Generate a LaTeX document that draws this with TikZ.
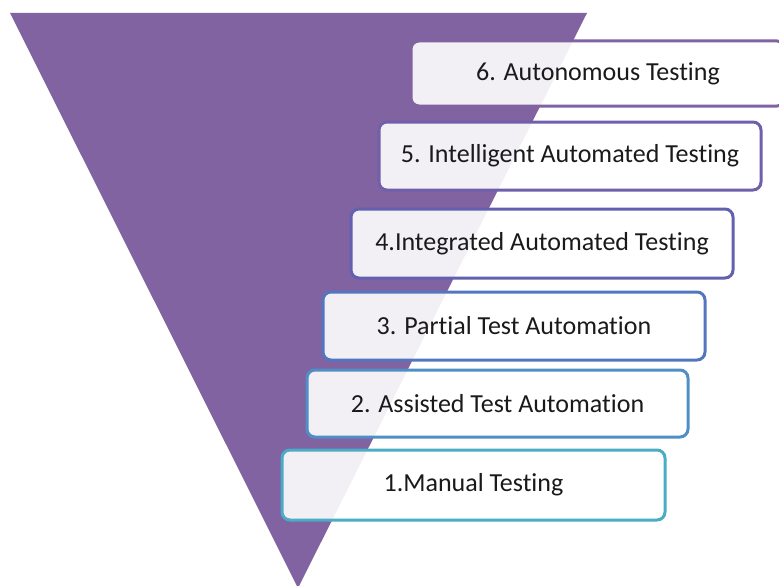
\documentclass[tikz,border=0pt]{standalone}
\usepackage{fontspec}
\setmainfont[Ligatures={NoCommon}]{Carlito}
\definecolor{tri}{RGB}{128,99,160}
\definecolor{b6}{RGB}{128,99,160}
\definecolor{b5}{RGB}{112,96,172}
\definecolor{b4}{RGB}{98,96,176}
\definecolor{b3}{RGB}{84,118,190}
\definecolor{b2}{RGB}{80,143,198}
\definecolor{b1}{RGB}{75,172,198}
\definecolor{txt}{RGB}{26,26,26}
\tikzset{
  lvl/.style={draw=#1, line width=3pt, rounded corners=8pt, fill=white, fill opacity=0.9, text opacity=1,
    text=txt, font=\fontsize{26}{30}\selectfont, inner sep=0pt}
}
\begin{document}
\begin{tikzpicture}[x=1pt,y=-1pt]
\useasboundingbox (0,0) rectangle (779,586);
\clip (0,0) rectangle (779,586);
\fill[tri] (10,13) -- (587,13) -- (298,588) -- cycle;
\node[lvl=b6, minimum width=374pt, minimum height=65pt] (n6) at (598,73.5) {6. Autonomous Testing};
\node[lvl=b5, minimum width=382pt, minimum height=68pt] (n5) at (570,156) {5. Intelligent Automated Testing};
\node[lvl=b4, minimum width=382pt, minimum height=69pt] (n4) at (542,243.5) {4.Integrated Automated Testing};
\node[lvl=b3, minimum width=382pt, minimum height=68pt] (n3) at (514,326) {3. Partial Test Automation};
\node[lvl=b2, minimum width=381pt, minimum height=67pt] (n2) at (497.5,403.5) {2. Assisted Test Automation};
\node[lvl=b1, minimum width=383pt, minimum height=70pt] (n1) at (473.5,485) {1.Manual Testing};
\end{tikzpicture}
\end{document}
